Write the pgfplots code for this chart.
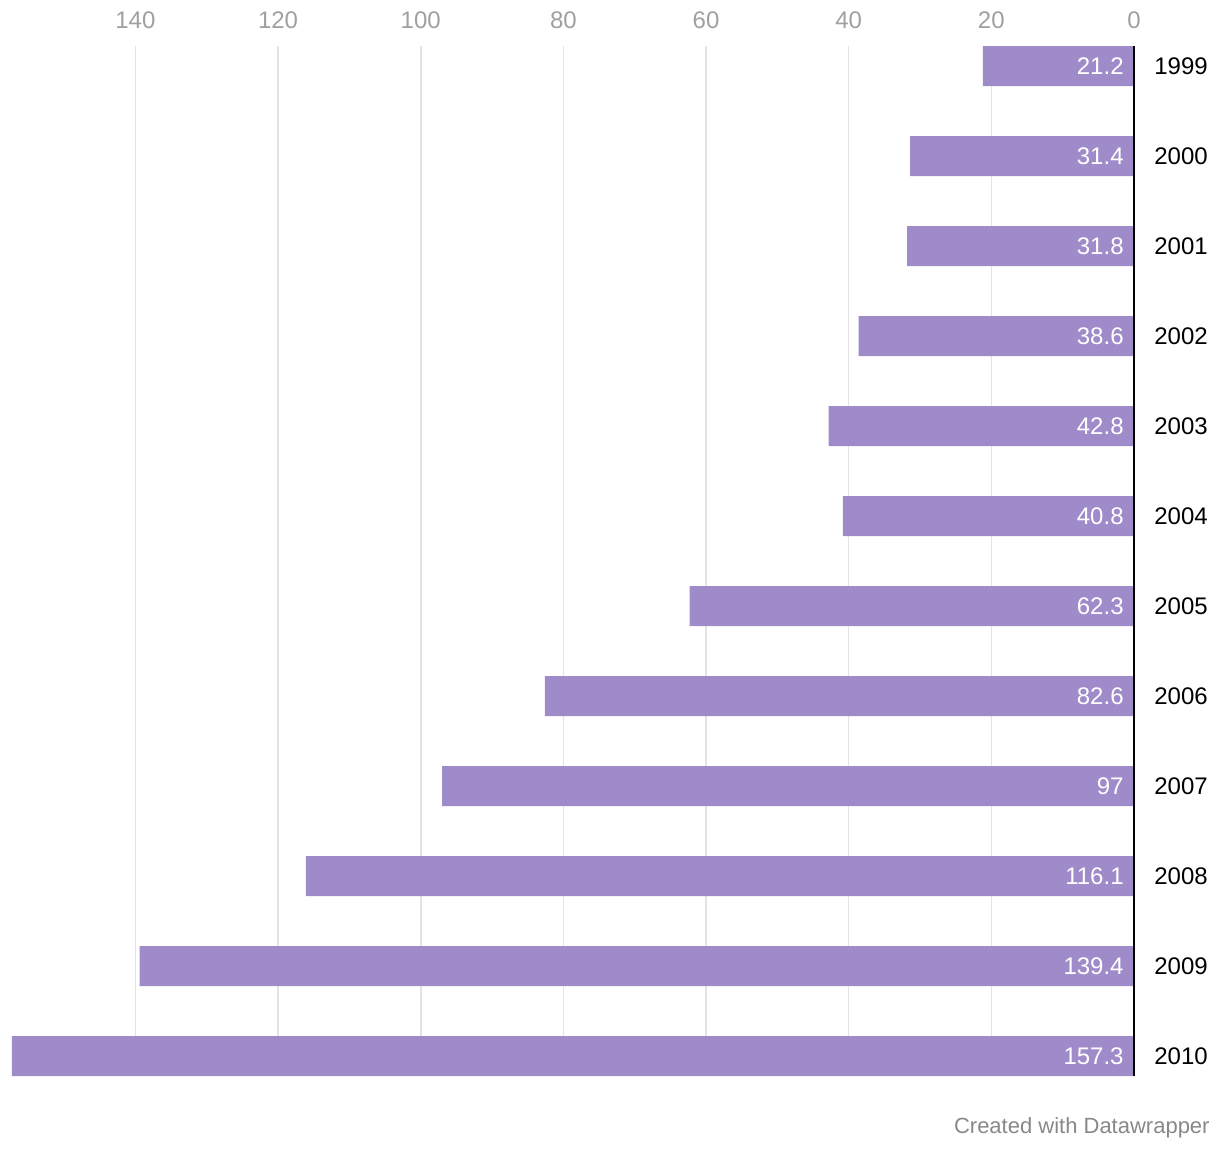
\documentclass[border=0pt]{standalone}
\usepackage{pgfplots}
\usepackage{pgfplotstable}
\pgfplotsset{compat=1.18}
\usepackage{fontspec}
\setmainfont{Liberation Sans}
\definecolor{barc}{HTML}{9F8BCA}
\definecolor{tickc}{HTML}{A0A0A0}
\definecolor{gridc}{HTML}{E3E3E3}
\definecolor{footc}{HTML}{888888}
\pgfplotstableread{
y v z lab
0 21.2 0 21.2
1 31.4 0 31.4
2 31.8 0 31.8
3 38.6 0 38.6
4 42.8 0 42.8
5 40.8 0 40.8
6 62.3 0 62.3
7 82.6 0 82.6
8 97 0 97
9 116.1 0 116.1
10 139.4 0 139.4
11 157.3 0 157.3
}\datatab
\begin{document}
\begin{tikzpicture}
\useasboundingbox (0,0) rectangle (610pt,-576pt);
\begin{axis}[
  at={(6pt,-23pt)}, anchor=north west,
  scale only axis, width=561pt, height=515pt,
  xmin=0, xmax=157.3, x dir=reverse,
  ymin=-0.2222, ymax=11.2222, y dir=reverse,
  axis line style={draw=none},
  xtick={0,20,...,140},
  xmajorgrids, grid style={gridc, line width=0.8pt},
  major tick length=0pt,
  xticklabel pos=top,
  xticklabel style={anchor=center, inner sep=0pt, yshift=13pt, text=tickc, font=\fontsize{12}{14}\selectfont},
  ytick={0,...,11},
  yticklabels={1999,2000,2001,2002,2003,2004,2005,2006,2007,2008,2009,2010},
  yticklabel pos=right,
  yticklabel style={anchor=west, inner sep=0pt, xshift=10pt, text=black, font=\fontsize{12}{14}\selectfont},
  /pgf/number format/assume math mode=true,
  clip=false,
]
\addplot[xbar, bar width=20pt, fill=barc, draw=none] table[x=v, y=y] {\datatab};
\addplot[black, line width=1pt] coordinates {(0,-0.2222) (0,11.2222)};
\addplot[only marks, mark=none, nodes near coords, point meta=explicit symbolic,
  nodes near coords style={anchor=east, text=white, inner sep=0pt, xshift=-5pt, font=\fontsize{12}{14}\selectfont}]
  table[x=z, y=y, meta=lab] {\datatab};
\end{axis}
\node[anchor=east, inner sep=0pt, text=footc, font=\fontsize{11}{13}\selectfont] at (605pt,-564pt) {Created with Datawrapper};
\end{tikzpicture}
\end{document}
